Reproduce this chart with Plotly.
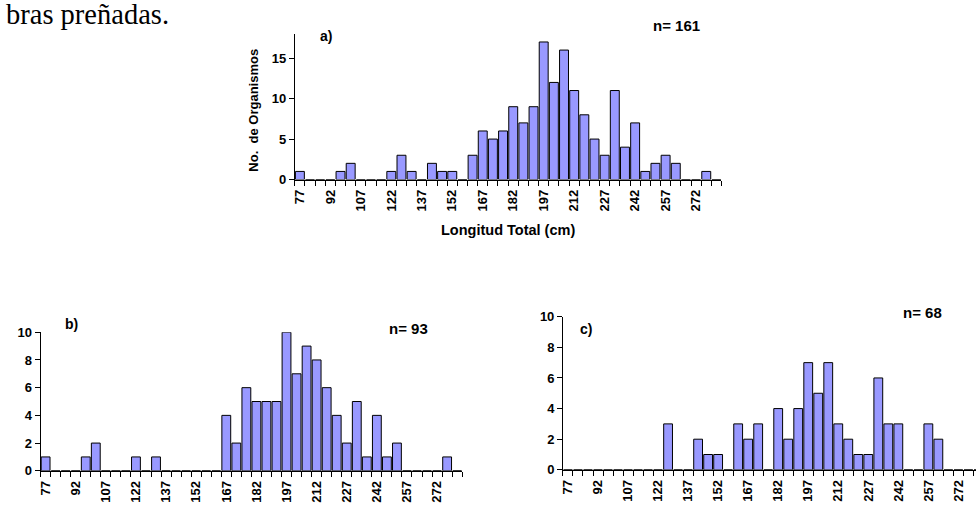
import plotly.graph_objects as go

# ---- data ----
categories = [77, 82, 87, 92, 97, 102, 107, 112, 117, 122, 127, 132, 137, 142,
              147, 152, 157, 162, 167, 172, 177, 182, 187, 192, 197, 202, 207, 212,
              217, 222, 227, 232, 237, 242, 247, 252, 257, 262, 267, 272, 277, 282]
tick_labels = [77, 92, 107, 122, 137, 152, 167, 182, 197, 212, 227, 242, 257, 272]

total_a = [1, 0, 0, 0, 1, 2, 0, 0, 0, 1, 3, 1, 0, 2,
           1, 1, 0, 3, 6, 5, 6, 9, 7, 9, 17, 12, 16, 11,
           8, 5, 3, 11, 4, 7, 1, 2, 3, 2, 0, 0, 1, 0]
group_b = [1, 0, 0, 0, 1, 2, 0, 0, 0, 1, 0, 1, 0, 0,
           0, 0, 0, 0, 4, 2, 6, 5, 5, 5, 10, 7, 9, 8,
           6, 4, 2, 5, 1, 4, 1, 2, 0, 0, 0, 0, 1, 0]
group_c = [0, 0, 0, 0, 0, 0, 0, 0, 0, 0, 3, 0, 0, 2,
           1, 1, 0, 3, 2, 3, 0, 4, 2, 4, 7, 5, 7, 3,
           2, 1, 1, 6, 3, 3, 0, 0, 3, 2, 0, 0, 0, 0]

W, H = 976, 515
BAR = "#9999FF"
FONT = "Liberation Sans, Arial, sans-serif"

def px(x):
    return x / W

def py(y):
    return (H - y) / H

fig = go.Figure()
for vals, xa, ya in [(total_a, "x", "y"), (group_b, "x2", "y2"), (group_c, "x3", "y3")]:
    fig.add_trace(go.Bar(x=categories, y=vals, xaxis=xa, yaxis=ya,
                         marker=dict(color=BAR, line=dict(color="black", width=1)),
                         showlegend=False, hoverinfo="x+y"))

def xaxis(domain, rng):
    return dict(domain=domain, range=rng, tickmode="array", tickvals=tick_labels,
                ticktext=[str(t) for t in tick_labels], tickangle=-90, ticks="",
                ticklabelstandoff=4,
                tickfont=dict(family=FONT, size=13, color="black", weight="bold"),
                showline=True, linecolor="black", linewidth=1, showgrid=False,
                zeroline=False, fixedrange=True,
                minor=dict(ticks="outside", ticklen=5, tickcolor="black", tickwidth=1,
                           tick0=74.5, dtick=5, showgrid=False))

def yaxis(domain, rng, dtick, anchor):
    return dict(domain=domain, range=rng, dtick=dtick, ticks="outside", ticklen=5,
                tickcolor="black", anchor=anchor,
                tickfont=dict(family=FONT, size=13, color="black", weight="bold"),
                showline=True, linecolor="black", linewidth=1, showgrid=False,
                zeroline=False, fixedrange=True)

fig.update_layout(
    width=W, height=H, autosize=False,
    margin=dict(l=0, r=0, t=0, b=0),
    paper_bgcolor="white", plot_bgcolor="white",
    bargap=0.12,
    xaxis=dict(xaxis([px(292.7), px(720.7)], [74.5, 284.5]), anchor="y"),
    yaxis=yaxis([py(177.7), py(27.7)], [0, 18], 5, "x"),
    xaxis2=dict(xaxis([px(37.7), px(460.6)], [74.5, 284.5]), anchor="y2"),
    yaxis2=yaxis([py(477.7), py(335)], [0, 10], 2, "x2"),
    xaxis3=dict(xaxis([px(561.7), 1.0], [74.5, 280.8]), anchor="y3"),
    yaxis3=yaxis([py(476.7), py(319)], [0, 10], 2, "x3"),
)

def note(text, x, y, size, angle=0, family=FONT, bold=True, xanchor="center"):
    fig.add_annotation(text=text, x=px(x), y=py(y), xref="paper", yref="paper",
                       showarrow=False, textangle=angle, xanchor=xanchor, yanchor="middle",
                       font=dict(family=family, size=size, color="black",
                                 weight="bold" if bold else "normal"))

note("bras preñadas.", 1, 8, 28.5, family="Liberation Serif, Times New Roman, serif",
     bold=False, xanchor="left")
note("a)", 324, 30, 14)
note("n= 161", 676, 19, 15)
note("No.  de Organismos", 251, 106.5, 13, angle=-90)
note("Longitud Total (cm)", 506.5, 230, 14.5)
note("b)", 69, 327, 14)
note("n= 93", 407, 331, 15)
note("c)", 585, 332, 14)
note("n= 68", 922, 315, 15)

fig.write_html("out.html", config={"displayModeBar": False},
               post_script="document.body.style.margin='0';document.body.style.overflow='hidden';")
